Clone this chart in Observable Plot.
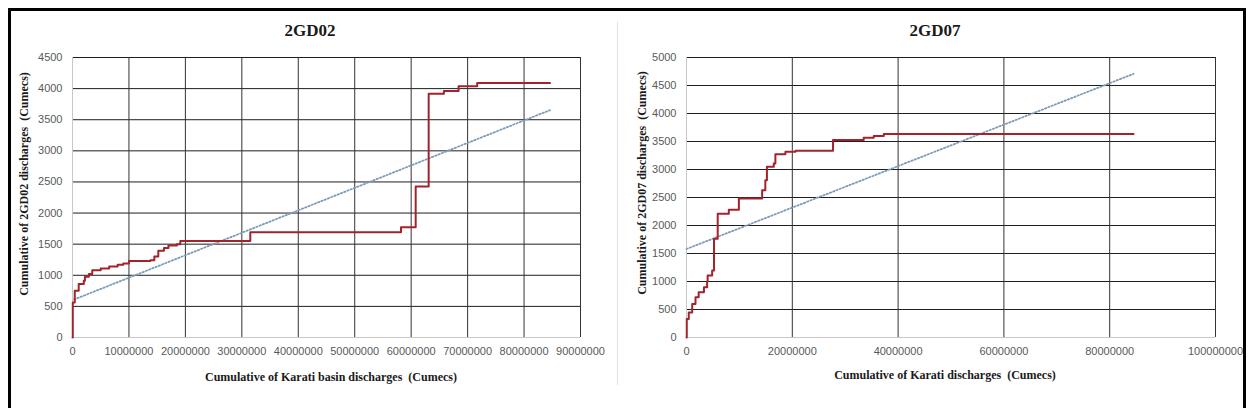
<!DOCTYPE html>
<html>
<head>
<meta charset="utf-8">
<script src="https://cdn.jsdelivr.net/npm/d3@7"></script>
<script src="https://cdn.jsdelivr.net/npm/@observablehq/plot@0.6"></script>
<style>
  html, body { margin: 0; padding: 0; background: #fff; overflow: hidden; }
  #root { position: relative; width: 1248px; height: 416px; overflow: hidden; background: #fff; }
  .abs { position: absolute; }
  .title { font-family: "Liberation Serif", serif; font-weight: bold; font-size: 17px; color: #1a1a1a; transform: translate(-50%, -50%); white-space: pre; }
  .xlab { font-family: "Liberation Serif", serif; font-weight: bold; font-size: 12px; color: #1a1a1a; transform: translate(-50%, -50%); white-space: pre; }
  .ylab { font-family: "Liberation Serif", serif; font-weight: bold; font-size: 12px; color: #1a1a1a; transform: translate(-50%, -50%) rotate(-90deg); white-space: pre; }
</style>
</head>
<body>
<div id="root"></div>
<script>
// ---- Data (X in millions of cumecs, Y in cumecs) ----
const gd02X = [0, 0.05, 0.4, 1.1, 2.0, 2.2, 2.9, 3.5, 5, 6.5, 8, 9, 10, 13.8, 14.5, 15.2, 16.2, 17, 18.5, 19.1, 31.5, 58.2, 60.8, 63.1, 65.8, 68.4, 71.7, 84.6];
const gd02Y = [0, 564, 752, 860, 913, 977, 1020, 1080, 1110, 1140, 1170, 1190, 1230, 1240, 1300, 1396, 1440, 1480, 1500, 1550, 1691, 1771, 2427, 3919, 3962, 4037, 4090, 4090];
const trend02X = [0.3, 84.6];
const trend02Y = [611, 3654];

const gd07X = [0, 0.05, 0.43, 1.08, 1.7, 2.3, 3.3, 3.9, 4.0, 4.85, 5.2, 5.9, 8, 9.9, 14.3, 14.9, 15.2, 16.5, 16.8, 18.7, 20.6, 27.7, 33.5, 35.4, 37.3, 84.5];
const gd07Y = [0, 330, 448, 598, 717, 806, 896, 1000, 1105, 1195, 1763, 2211, 2283, 2480, 2629, 2808, 3047, 3108, 3274, 3315, 3333, 3525, 3566, 3597, 3633, 3633];
const trend07X = [0, 84.5];
const trend07Y = [1580, 4708];

const xTicks02 = [0, 10000000, 20000000, 30000000, 40000000, 50000000, 60000000, 70000000, 80000000, 90000000];
const yTicks02 = [0, 500, 1000, 1500, 2000, 2500, 3000, 3500, 4000, 4500];
const xTicks07 = [0, 20000000, 40000000, 60000000, 80000000, 100000000];
const yTicks07 = [0, 500, 1000, 1500, 2000, 2500, 3000, 3500, 4000, 4500, 5000];

const titles = ["2GD02", "2GD07"];
const xLabels = ["Cumulative of Karati basin discharges  (Cumecs)", "Cumulative of Karati discharges  (Cumecs)"];
const yLabels = ["Cumulative of 2GD02 discharges  (Cumecs)", "Cumulative of 2GD07 discharges  (Cumecs)"];

const toRows = (xs, ys) => xs.map((x, i) => ({x: x * 1e6, y: ys[i]}));

function panel({width, mL, mR, xTicks, yTicks, rows, trend}) {
  const xMax = xTicks[xTicks.length - 1];
  const yMax = yTicks[yTicks.length - 1];
  return Plot.plot({
    width, height: 416,
    marginLeft: mL, marginRight: mR, marginTop: 57, marginBottom: 79,
    x: {domain: [0, xMax], label: null},
    y: {domain: [0, yMax], label: null},
    style: {fontFamily: "Liberation Sans, sans-serif", fontSize: "11px", color: "#595959", background: "transparent", overflow: "visible"},
    marks: [
      Plot.ruleY(yTicks.filter(d => d > 0), {stroke: "#1e1e1e", strokeWidth: 1}),
      Plot.ruleX(xTicks.filter(d => d > 0), {stroke: "#333", strokeWidth: 1}),
      Plot.ruleY([0], {stroke: "#c8c8c8", strokeWidth: 1}),
      Plot.ruleX([0], {stroke: "#c8c8c8", strokeWidth: 1}),
      Plot.line(trend, {x: "x", y: "y", stroke: "#7f9cb6", strokeWidth: 1.8, strokeDasharray: "1.4,2.1"}),
      Plot.line(rows, {x: "x", y: "y", curve: "step-after", stroke: "#a3222b", strokeWidth: 2}),
      Plot.axisX({ticks: xTicks, tickFormat: d3.format("d"), tickSize: 0, tickPadding: 10, label: null}),
      Plot.axisY({ticks: yTicks, tickFormat: d3.format("d"), tickSize: 0, tickPadding: 10, label: null})
    ]
  });
}

const root = document.getElementById("root");

// outer frame: top, left and right edges only (bottom edge lies outside the picture)
const mkEdge = (l, t, w, h) => {
  const e = document.createElement("div");
  e.className = "abs";
  Object.assign(e.style, {left: l + "px", top: t + "px", width: w + "px", height: h + "px", background: "#000"});
  root.appendChild(e);
};
mkEdge(8, 8, 1238, 3);
mkEdge(8, 8, 3, 400);
mkEdge(1243, 8, 3, 400);

// divider
const div = document.createElement("div");
div.className = "abs";
Object.assign(div.style, {left: "617px", top: "22px", width: "1px", height: "363px", background: "#e2e2e2"});
root.appendChild(div);

const p1 = panel({width: 617, mL: 72, mR: 37, xTicks: xTicks02, yTicks: yTicks02, rows: toRows(gd02X, gd02Y), trend: toRows(trend02X, trend02Y)});
p1.style.position = "absolute"; p1.style.left = "0px"; p1.style.top = "0px";
root.appendChild(p1);

const p2 = panel({width: 631, mL: 69, mR: 33, xTicks: xTicks07, yTicks: yTicks07, rows: toRows(gd07X, gd07Y), trend: toRows(trend07X, trend07Y)});
p2.style.position = "absolute"; p2.style.left = "617px"; p2.style.top = "0px";
root.appendChild(p2);

function addText(cls, text, cx, cy) {
  const el = document.createElement("div");
  el.className = "abs " + cls;
  el.textContent = text;
  el.style.left = cx + "px";
  el.style.top = cy + "px";
  root.appendChild(el);
}
addText("title", titles[0], 310, 31);
addText("title", titles[1], 935, 31);
addText("xlab", xLabels[0], 331, 377);
addText("xlab", xLabels[1], 945, 375);
addText("ylab", yLabels[0], 24, 184);
addText("ylab", yLabels[1], 642, 183);
</script>
</body>
</html>
